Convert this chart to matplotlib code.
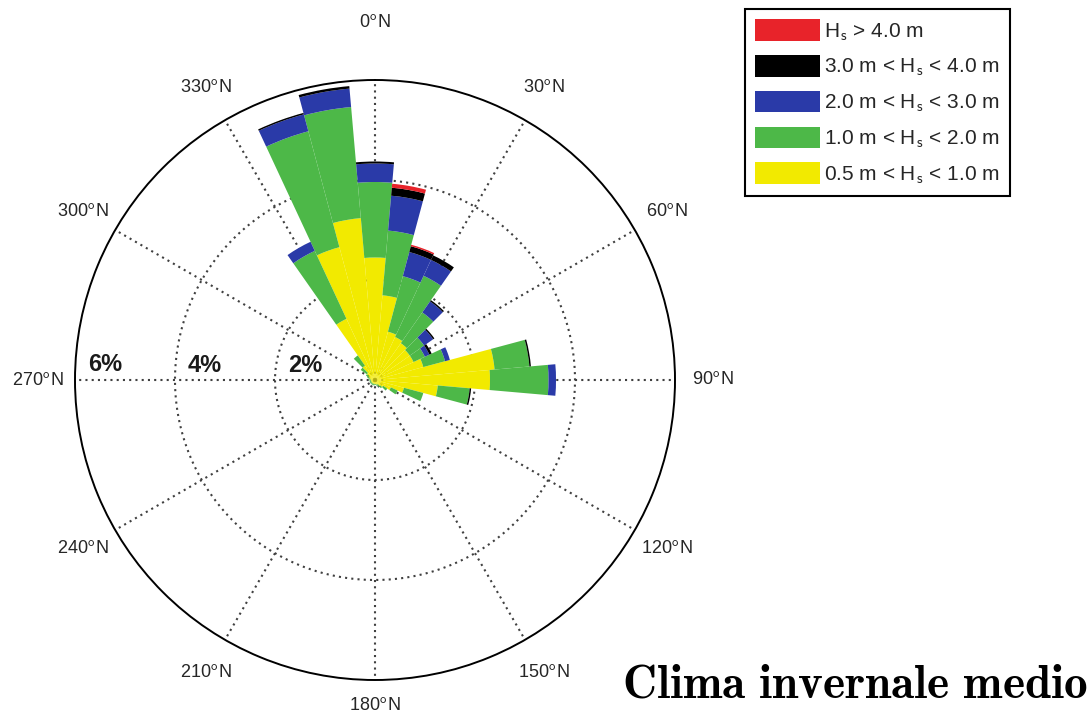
import numpy as np
import matplotlib
matplotlib.use("Agg")
import matplotlib.pyplot as plt
from matplotlib.patches import Patch

plt.rcParams["mathtext.fontset"] = "cm"

# direction of each 10 degree sector (degrees from north, clockwise)
directions = [0, 10, 20, 30, 40, 50, 60, 70, 80, 90, 100, 110,
              120, 130, 140, 150, 160, 170, 180, 190, 200, 210, 220, 230,
              240, 250, 260, 270, 280, 290, 300, 310, 320, 330, 340, 350]

# frequency (%) of each wave-height class per sector
hs_05_10 = [2.45, 1.70, 1.00, 0.95, 0.90, 0.85, 0.85, 1.00, 2.40, 2.30, 1.26, 0.60,
            0.35, 0.20, 0.15, 0.10, 0.10, 0.08, 0.08, 0.08, 0.08, 0.08, 0.08, 0.08,
            0.08, 0.08, 0.08, 0.08, 0.10, 0.12, 0.15, 0.20, 0.35, 1.35, 2.75, 3.25]
hs_10_20 = [1.51, 1.30, 1.15, 1.35, 0.75, 0.35, 0.25, 0.45, 0.70, 1.17, 0.64, 0.40,
            0.15, 0.10, 0.05, 0.05, 0.03, 0.02, 0.02, 0.03, 0.03, 0.03, 0.03, 0.03,
            0.03, 0.03, 0.03, 0.03, 0.03, 0.04, 0.05, 0.15, 0.25, 1.50, 2.40, 2.23]
hs_20_30 = [0.37, 0.70, 0.50, 0.35, 0.27, 0.22, 0.10, 0.10, 0.00, 0.15, 0.00, 0.00,
            0.00, 0.00, 0.00, 0.00, 0.00, 0.00, 0.00, 0.00, 0.00, 0.00, 0.00, 0.00,
            0.00, 0.00, 0.00, 0.00, 0.00, 0.00, 0.00, 0.00, 0.00, 0.20, 0.35, 0.37]
hs_30_40 = [0.04, 0.16, 0.12, 0.10, 0.03, 0.03, 0.05, 0.00, 0.03, 0.00, 0.03, 0.00,
            0.00, 0.00, 0.00, 0.00, 0.00, 0.00, 0.00, 0.00, 0.00, 0.00, 0.00, 0.00,
            0.00, 0.00, 0.00, 0.00, 0.00, 0.00, 0.00, 0.00, 0.00, 0.00, 0.03, 0.05]
hs_40 = [0.00, 0.08, 0.03, 0.00, 0.00, 0.00, 0.00, 0.00, 0.00, 0.00, 0.00, 0.00,
         0.00, 0.00, 0.00, 0.00, 0.00, 0.00, 0.00, 0.00, 0.00, 0.00, 0.00, 0.00,
         0.00, 0.00, 0.00, 0.00, 0.00, 0.00, 0.00, 0.00, 0.00, 0.00, 0.00, 0.00]

classes = [
    (hs_05_10, "#f2ea00", r"0.5 m < H$_\mathsf{s}$ < 1.0 m"),
    (hs_10_20, "#4db848", r"1.0 m < H$_\mathsf{s}$ < 2.0 m"),
    (hs_20_30, "#2a3aa8", r"2.0 m < H$_\mathsf{s}$ < 3.0 m"),
    (hs_30_40, "#000000", r"3.0 m < H$_\mathsf{s}$ < 4.0 m"),
    (hs_40, "#e8232a", r"H$_\mathsf{s}$ > 4.0 m"),
]

ring_labels = ["2%", "4%", "6%"]
ring_values = [2, 4, 6]
theta_ticks = [0, 30, 60, 90, 120, 150, 180, 210, 240, 270, 300, 330]

fig = plt.figure(figsize=(10.91, 7.22), dpi=100)
ax = fig.add_axes([75 / 1091, 42 / 722, 600 / 1091, 600 / 722], projection="polar")
ax.set_theta_zero_location("N")
ax.set_theta_direction(-1)
ax.set_ylim(0, 6)

theta = np.deg2rad(directions)
width = np.deg2rad(10)
bottom = np.zeros(len(directions))
for values, color, label in classes:
    vals = np.array(values)
    ax.bar(theta, vals, width=width, bottom=bottom, color=color,
           edgecolor="none", align="center", zorder=3)
    bottom += vals

# dotted grid
ax.grid(False)
ax.set_xticks([])
ax.set_yticks([])
circ = np.linspace(0, 2 * np.pi, 400)
for r in ring_values[:-1]:
    ax.plot(circ, np.full_like(circ, r), color="0.25", lw=1.5,
            linestyle=(0, (1, 2)), zorder=1)
for t in theta_ticks:
    ax.plot([np.deg2rad(t)] * 2, [0, 6], color="0.25", lw=1.5,
            linestyle=(0, (1, 2)), zorder=1)
ax.spines["polar"].set_linewidth(1.4)
ax.spines["polar"].set_color("black")

# direction labels
for t in theta_ticks:
    r_lab = {0: 7.15, 180: 6.52}.get(t, 6.75)
    ax.text(np.deg2rad(t), r_lab, f"{t}$^{{\\mathsf{{o}}}}$N", ha="center", va="center",
            fontsize=13, family="Liberation Sans", color="0.15", clip_on=False)

# percentage labels along the west axis
for r, lab in zip(ring_values, ring_labels):
    x, y = -(r - 0.6), 0.3
    ang = np.arctan2(x, y)
    ax.text(ang, np.hypot(x, y), lab, ha="center", va="center", fontsize=17,
            fontweight="bold", family="Liberation Sans", color="0.1", zorder=4)

handles = [Patch(facecolor=c, edgecolor="none", label=l) for _, c, l in classes][::-1]
leg = fig.legend(handles=handles, loc="upper right", bbox_to_anchor=(1010 / 1091, 1 - 9 / 722),
                 prop={"family": "Liberation Sans", "size": 15}, fancybox=False,
                 edgecolor="black", framealpha=1, handlelength=3.1, handleheight=1.2,
                 labelspacing=0.6, handletextpad=0.2, borderpad=0.5, borderaxespad=0)
leg.get_frame().set_linewidth(1.5)
for txt in leg.get_texts():
    txt.set_color("0.15")

fig.text(1088 / 1091, 1 - 697 / 722, r"$\mathbf{Clima\ invernale\ medio}$",
         ha="right", va="baseline", fontsize=34)

fig.savefig("out.png", dpi=100)
